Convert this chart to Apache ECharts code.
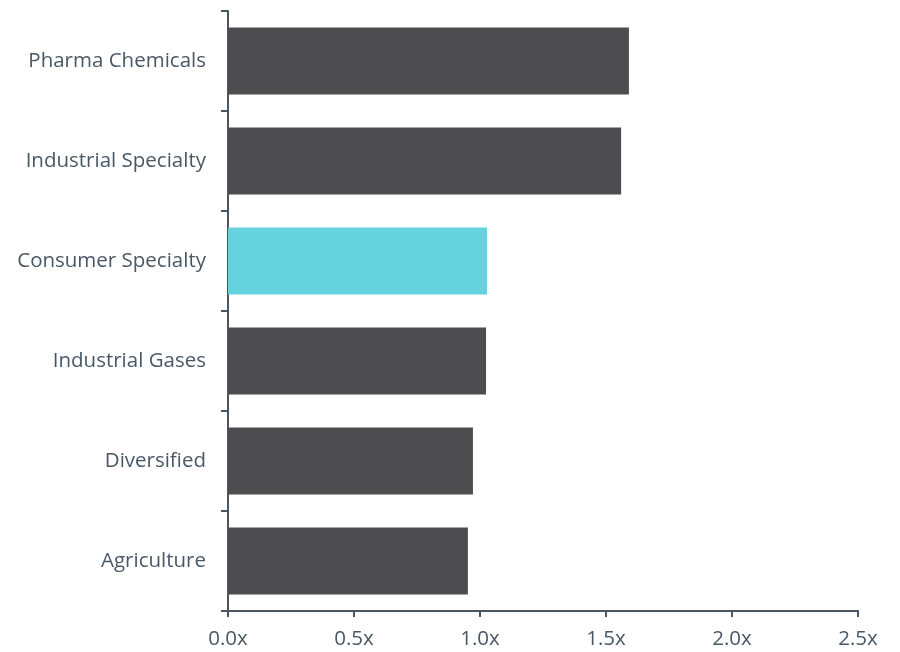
<!DOCTYPE html>
<html><head><meta charset="utf-8">
<script src="https://cdn.jsdelivr.net/npm/echarts@6/dist/echarts.min.js"></script>
<style>html,body{margin:0;padding:0;background:#fff}#c{width:900px;height:652px}</style>
</head><body><div id="c"></div>
<script>
var categories = ["Agriculture","Diversified","Industrial Gases","Consumer Specialty","Industrial Specialty","Pharma Chemicals"];
var values = [0.952, 0.972, 1.024, 1.028, 1.560, 1.591];
var highlight = "Consumer Specialty";
var xTicks = [0, 0.5, 1.0, 1.5, 2.0, 2.5];

var axisColor = "#4a5661";
var textColor = "#4a5866";
var chart = echarts.init(document.getElementById('c'), null, {renderer:'canvas'});
chart.setOption({
  animation: false,
  grid: {left: 228, right: 42, top: 11, bottom: 41, containLabel: false},
  xAxis: {
    type: 'value', min: xTicks[0], max: xTicks[xTicks.length-1], interval: 0.5,
    axisLine: {show: true, lineStyle: {color: axisColor, width: 2}},
    axisTick: {show: true, length: 6, lineStyle: {color: axisColor, width: 2}},
    splitLine: {show: false},
    axisLabel: {color: textColor, fontFamily: 'Open Sans', fontSize: 20.5, margin: 18,
      formatter: function(v){ return v.toFixed(1) + 'x'; }}
  },
  yAxis: {
    type: 'category', data: categories,
    axisLine: {show: true, lineStyle: {color: axisColor, width: 2}},
    axisTick: {show: true, length: 7, alignWithLabel: false, lineStyle: {color: axisColor, width: 2}},
    axisLabel: {color: textColor, fontFamily: 'Open Sans', fontSize: 20.5, margin: 22}
  },
  series: [{
    type: 'bar', barCategoryGap: '33%',
    data: values.map(function(v, i){
      return {value: v, itemStyle: {color: categories[i] === highlight ? '#66d2de' : '#4d4d4f'}};
    })
  }]
});
</script></body></html>
